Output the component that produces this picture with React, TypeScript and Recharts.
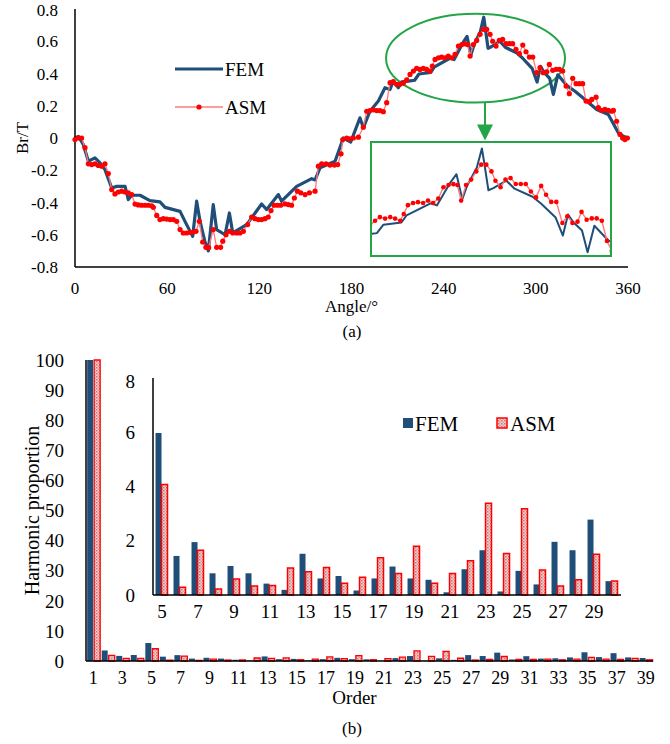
import React from "react";
import { LineChart, Line, BarChart, Bar, XAxis, YAxis, Legend, ReferenceArea } from "recharts";

const FONT = '"Liberation Serif", "Times New Roman", serif';
const FEM_BLUE = "#1F4E79";
const ASM_RED = "#FF0000";
const ASM_LINE = "#FF7A7A";
const GREEN = "#22A447";

// (a) air-gap flux density waveform, angle in degrees, Br in T
const femAngle = [0, 2.2, 5.4, 8.7, 13, 16.3, 19.5, 23.9, 27.1, 32.6, 34.7, 36.9, 42.3, 48.8, 55.3, 58.6, 68.4, 71.6, 76.6, 79.2, 81.4, 84.5, 86.8, 90, 92.2, 97.7, 100.5, 102.7, 111.8, 121.5, 124.8, 132.4, 134.5, 144.3, 154.1, 156.3, 159.5, 169.3, 174.7, 179.5, 185.5, 187.7, 192, 197.5, 201.8, 205, 207.2, 210.5, 212.7, 217, 221.1, 223.9, 231.6, 233.8, 244.3, 246.8, 252.5, 255.2, 257.7, 259.8, 263.9, 266.1, 267, 268.9, 271, 276.6, 280.1, 287.8, 291.3, 297.7, 300.8, 303, 305.4, 309, 311.4, 314.3, 320.2, 325.5, 332, 339.6, 347.2, 353.7, 357, 360];
const femBr = [0, 0.01, -0.04, -0.144, -0.123, -0.154, -0.196, -0.31, -0.3, -0.3, -0.382, -0.355, -0.355, -0.388, -0.396, -0.43, -0.455, -0.517, -0.61, -0.392, -0.517, -0.64, -0.7, -0.413, -0.568, -0.6, -0.465, -0.589, -0.537, -0.409, -0.444, -0.351, -0.392, -0.3, -0.252, -0.26, -0.185, -0.144, 0, -0.025, 0.125, 0.063, 0.166, 0.229, 0.312, 0.3, 0.353, 0.312, 0.349, 0.353, 0.358, 0.397, 0.407, 0.44, 0.496, 0.486, 0.59, 0.63, 0.515, 0.578, 0.66, 0.749, 0.689, 0.556, 0.566, 0.6, 0.563, 0.526, 0.496, 0.43, 0.347, 0.444, 0.407, 0.37, 0.27, 0.392, 0.325, 0.29, 0.239, 0.177, 0.146, 0.032, 0.011, 0];

const asmAngle = [0, 2.2, 4.3, 6.5, 8.7, 10.9, 13, 15.2, 17.4, 19.5, 21.7, 23.9, 26, 28.2, 30.4, 32.6, 34.7, 36.9, 39.1, 41.2, 43.4, 45.6, 47.7, 49.9, 51, 53.2, 55.3, 57.5, 59.7, 61.9, 64, 66.2, 68.4, 70.5, 72.7, 74.9, 77, 78.8, 80.9, 83.1, 85.2, 87, 90, 92.2, 94.8, 96.2, 98.3, 100.5, 102.7, 105.2, 107.4, 109.6, 112.4, 115, 117.2, 119.4, 121.5, 123.7, 125.8, 127.6, 129.6, 131.8, 133.9, 136.7, 138.9, 141, 142.8, 144.8, 147, 149.8, 152.6, 156.3, 158.4, 160.6, 163.4, 166, 168.9, 171, 173.2, 174.3, 176.9, 179, 181.2, 184.5, 187.7, 189.9, 192, 194.2, 196.4, 198.5, 200.7, 202.9, 205.1, 207.2, 209.4, 211.5, 213.7, 215.9, 218.1, 220.3, 222.4, 224.6, 226.8, 228.9, 231.1, 232.6, 234.4, 236.6, 238.7, 240.9, 243, 245.2, 247.4, 249.6, 251.8, 253.9, 255.6, 257.2, 259.3, 261.5, 263.7, 265.8, 268, 270.2, 271.9, 274.1, 276.2, 278.4, 280.6, 282.8, 284.9, 287.1, 289.3, 291.5, 293.6, 295.8, 298, 300.6, 302.7, 304.9, 307.1, 308.8, 311, 313.2, 315.3, 317.5, 319.7, 321.8, 324, 326.2, 328.4, 330.5, 332.7, 334.9, 336.4, 339.2, 340.7, 342.8, 345, 347.2, 349.4, 350.5, 352.6, 354.8, 356.5, 358, 359.6];
const asmBr = [-0.01, 0, 0, -0.06, -0.16, -0.165, -0.16, -0.17, -0.175, -0.16, -0.22, -0.32, -0.347, -0.335, -0.33, -0.335, -0.34, -0.351, -0.41, -0.415, -0.417, -0.417, -0.417, -0.42, -0.43, -0.48, -0.506, -0.5, -0.503, -0.506, -0.506, -0.517, -0.568, -0.589, -0.589, -0.585, -0.583, -0.579, -0.517, -0.645, -0.678, -0.68, -0.568, -0.678, -0.678, -0.64, -0.6, -0.579, -0.589, -0.589, -0.589, -0.579, -0.537, -0.49, -0.5, -0.506, -0.506, -0.5, -0.49, -0.45, -0.417, -0.417, -0.417, -0.409, -0.413, -0.417, -0.372, -0.33, -0.34, -0.351, -0.34, -0.33, -0.175, -0.16, -0.16, -0.168, -0.168, -0.165, -0.098, -0.01, 0, -0.005, 0, 0.005, 0.067, 0.166, 0.17, 0.175, 0.17, 0.17, 0.163, 0.219, 0.343, 0.349, 0.333, 0.333, 0.34, 0.36, 0.394, 0.415, 0.432, 0.425, 0.432, 0.425, 0.415, 0.446, 0.487, 0.497, 0.501, 0.497, 0.508, 0.497, 0.518, 0.57, 0.58, 0.584, 0.58, 0.508, 0.58, 0.605, 0.643, 0.674, 0.674, 0.643, 0.6, 0.57, 0.605, 0.612, 0.585, 0.585, 0.585, 0.55, 0.523, 0.576, 0.535, 0.502, 0.502, 0.405, 0.436, 0.405, 0.411, 0.456, 0.42, 0.426, 0.426, 0.415, 0.322, 0.275, 0.37, 0.337, 0.337, 0.337, 0.229, 0.225, 0.239, 0.253, 0.188, 0.171, 0.177, 0.171, 0.166, 0.171, 0.104, 0.022, 0, -0.01, 0];

const angleTicks = [0, 60, 120, 180, 240, 300, 360];
const brTicks = [-0.8, -0.6, -0.4, -0.2, 0, 0.2, 0.4, 0.6, 0.8];

// (b) harmonic spectrum, % of fundamental
const orders = [1, 2, 3, 4, 5, 6, 7, 8, 9, 10, 11, 12, 13, 14, 15, 16, 17, 18, 19, 20, 21, 22, 23, 24, 25, 26, 27, 28, 29, 30, 31, 32, 33, 34, 35, 36, 37, 38, 39];
const femHarm = [100, 3.5, 1.7, 2.0, 5.97, 1.44, 1.95, 0.8, 1.07, 0.8, 0.42, 0.19, 1.52, 0.61, 0.7, 0.17, 0.61, 1.05, 0.61, 0.56, 0.1, 0.95, 1.65, 0.13, 0.89, 0.39, 1.96, 1.65, 2.78, 0.51, 1.6, 0.8, 0.9, 1.2, 2.9, 1.3, 2.6, 1.2, 1.0];
const asmHarm = [100, 1.9, 0.9, 0.9, 4.07, 0.29, 1.65, 0.22, 0.59, 0.33, 0.35, 1.0, 0.86, 1.01, 0.43, 0.65, 1.37, 0.79, 1.8, 0.43, 0.79, 1.26, 3.38, 1.53, 3.18, 0.92, 0.33, 0.56, 1.5, 0.52, 0.5, 0.6, 0.4, 0.6, 1.2, 0.6, 0.5, 0.9, 0.4];
const percentTicks = [0, 10, 20, 30, 40, 50, 60, 70, 80, 90, 100];
const zoomTicks = [0, 2, 4, 6, 8];

const femData = femAngle.map((a, i) => ({ angle: a, br: femBr[i] }));
const asmData = asmAngle.map((a, i) => ({ angle: a, br: asmBr[i] }));
const harmData = orders.map((o, i) => ({ order: o, fem: femHarm[i], asm: asmHarm[i] }));
const zoomData = harmData.filter((d) => d.order >= 5 && d.order <= 30);

const frame = { stroke: "#000", strokeWidth: 1.5 };

function Pattern({ id }: { id: string }) {
  return (
    <defs>
      <pattern id={id} width="3" height="3" patternUnits="userSpaceOnUse">
        <rect width="3" height="3" fill="#f3d2d2" />
        <rect width="1.5" height="1.5" fill="#e46a6a" />
        <rect x="1.5" y="1.5" width="1.5" height="1.5" fill="#c8a6a6" />
      </pattern>
    </defs>
  );
}

// legends drawn as svg so the text uses the same serif face as the axes
function WaveLegend() {
  return (
    <svg width={110} height={62}>
      <line x1={0} y1={12} x2={48} y2={12} stroke={FEM_BLUE} strokeWidth={3} />
      <text x={50} y={18.5} fontFamily={FONT} fontSize={19} fill="#000">FEM</text>
      <line x1={0} y1={50} x2={48} y2={50} stroke={ASM_LINE} strokeWidth={1.3} />
      <circle cx={24} cy={50} r={2.6} fill={ASM_RED} />
      <text x={50} y={56.5} fontFamily={FONT} fontSize={19} fill="#000">ASM</text>
    </svg>
  );
}

function HarmLegend() {
  return (
    <svg width={170} height={24}>
      <rect x={1} y={7} width={10} height={10} fill={FEM_BLUE} />
      <text x={13} y={19.5} fontFamily={FONT} fontSize={21} fill="#000">FEM</text>
      <rect x={95} y={7} width={10} height={10} fill="url(#asmFillZoom)" stroke={ASM_RED} strokeWidth={1.5} />
      <text x={108} y={19.5} fontFamily={FONT} fontSize={21} fill="#000">ASM</text>
    </svg>
  );
}

// ellipse around the peak plus the arrow pointing to the zoom box
const ZoomMark = (props: any) => {
  const { x, y, width, height } = props;
  const ax = x + width * 0.553;
  const by = y + height;
  return (
    <g>
      <ellipse cx={x + width / 2} cy={y + height / 2} rx={width / 2} ry={height / 2} fill="none" stroke={GREEN} strokeWidth={2} />
      <line x1={ax} y1={by} x2={ax} y2={by + 24} stroke={GREEN} strokeWidth={2} />
      <polygon points={`${ax - 8},${by + 22} ${ax + 8},${by + 22} ${ax},${by + 38}`} fill={GREEN} />
    </g>
  );
};

const tickStyle = { fontFamily: FONT, fill: "#000" };

export default function App() {
  return (
    <div style={{ position: "absolute", left: 0, top: 0, width: 670, height: 744, background: "#fff", fontFamily: FONT }}>
      {/* (a) waveform */}
      <div style={{ position: "absolute", left: 0, top: 0 }}>
        <LineChart width={670} height={320} margin={{ top: 9, right: 42, bottom: 0, left: 0 }}>
          <XAxis
            type="number"
            dataKey="angle"
            domain={[0, 360]}
            ticks={angleTicks}
            tickLine={false}
            tickMargin={9}
            axisLine={frame}
            height={53}
            tick={{ ...tickStyle, fontSize: 17 }}
            label={{ value: "Angle/°", position: "insideBottom", offset: 8, style: { ...tickStyle, fontSize: 17 } }}
          />
          <XAxis xAxisId="top" orientation="top" type="number" domain={[0, 360]} tick={false} tickLine={false} axisLine={frame} height={0} />
          <YAxis
            type="number"
            domain={[-0.8, 0.8]}
            ticks={brTicks}
            tickLine={false}
            tickMargin={11}
            axisLine={frame}
            width={75}
            tick={{ ...tickStyle, fontSize: 17 }}
            label={{ value: "Br/T", angle: -90, position: "insideLeft", offset: 22, style: { ...tickStyle, fontSize: 17, textAnchor: "middle" } }}
          />
          <YAxis yAxisId="right" orientation="right" type="number" domain={[-0.8, 0.8]} tick={false} tickLine={false} axisLine={frame} width={0} />
          <ReferenceArea x1={202.5} x2={319} y1={0.22} y2={0.77} shape={ZoomMark} />
          <Line data={femData} dataKey="br" type="linear" stroke={FEM_BLUE} strokeWidth={3.2} strokeLinejoin="round" dot={false} isAnimationActive={false} />
          <Line
            data={asmData}
            dataKey="br"
            type="linear"
            stroke={ASM_LINE}
            strokeWidth={1.3}
            dot={{ r: 2.6, fill: ASM_RED, stroke: "none" }}
            isAnimationActive={false}
          />
          <Legend layout="vertical" align="center" verticalAlign="middle" content={<WaveLegend />} wrapperStyle={{ left: 175, top: 57, width: 110 }} />
        </LineChart>
      </div>
      {/* zoom box of the peak */}
      <div style={{ position: "absolute", left: 370, top: 141, width: 242, height: 116, border: `2px solid ${GREEN}`, boxSizing: "border-box", background: "#fff" }}>
        <LineChart width={238} height={112} margin={{ top: 0, right: 0, bottom: 0, left: 0 }}>
          <XAxis type="number" dataKey="angle" domain={[219, 321]} allowDataOverflow hide />
          <YAxis type="number" domain={[0.257, 0.774]} allowDataOverflow hide />
          <Line data={femData} dataKey="br" type="linear" stroke={FEM_BLUE} strokeWidth={2} strokeLinejoin="round" dot={false} isAnimationActive={false} />
          <Line data={asmData} dataKey="br" type="linear" stroke={ASM_LINE} strokeWidth={1.4} dot={{ r: 2.3, fill: ASM_RED, stroke: "none" }} isAnimationActive={false} />
        </LineChart>
      </div>
      <div style={{ position: "absolute", left: 0, width: 704, top: 322, textAlign: "center", fontSize: 17, lineHeight: "20px" }}>(a)</div>

      {/* (b) harmonic spectrum */}
      <div style={{ position: "absolute", left: 0, top: 340 }}>
        <BarChart width={670} height={380} data={harmData} margin={{ top: 20, right: 17, bottom: 0, left: 0 }} barCategoryGap="8%" barGap={1}>
          <Pattern id="asmFillMain" />
          <XAxis
            dataKey="order"
            interval={1}
            tickLine={false}
            tickMargin={4}
            axisLine={frame}
            height={59}
            tick={{ ...tickStyle, fontSize: 18 }}
            label={{ value: "Order", position: "insideBottom", offset: 16, dx: -15, style: { ...tickStyle, fontSize: 19 } }}
          />
          <XAxis xAxisId="top" orientation="top" dataKey="order" tick={false} tickLine={false} axisLine={frame} height={0} />
          <YAxis
            type="number"
            domain={[0, 100]}
            ticks={percentTicks}
            tickLine={false}
            tickMargin={16}
            axisLine={frame}
            width={86}
            tick={{ ...tickStyle, fontSize: 19 }}
            label={{ value: "Harmonic proportion", angle: -90, position: "insideLeft", offset: 32, style: { ...tickStyle, fontSize: 20, textAnchor: "middle" } }}
          />
          <YAxis yAxisId="right" orientation="right" type="number" domain={[0, 100]} tick={false} tickLine={false} axisLine={frame} width={0} />
          <Bar dataKey="fem" fill={FEM_BLUE} isAnimationActive={false} />
          <Bar dataKey="asm" fill="url(#asmFillMain)" stroke={ASM_RED} strokeWidth={1.3} isAnimationActive={false} />
        </BarChart>
      </div>
      {/* zoom of orders 5-30 */}
      <div style={{ position: "absolute", left: 100, top: 370 }}>
        <BarChart width={530} height={260} data={zoomData} margin={{ top: 8, right: 9, bottom: 0, left: 0 }} barCategoryGap="14%" barGap={0}>
          <Pattern id="asmFillZoom" />
          <XAxis dataKey="order" interval={1} tickLine={false} tickMargin={4} axisLine={frame} height={35} tick={{ ...tickStyle, fontSize: 19 }} />
          <XAxis xAxisId="top" orientation="top" dataKey="order" tick={false} tickLine={false} axisLine={frame} height={0} />
          <YAxis type="number" domain={[0, 8]} ticks={zoomTicks} tickLine={false} tickMargin={12} axisLine={frame} width={53} tick={{ ...tickStyle, fontSize: 19 }} />
          <YAxis yAxisId="right" orientation="right" type="number" domain={[0, 8]} tick={false} tickLine={false} axisLine={frame} width={0} />
          <Bar dataKey="fem" fill={FEM_BLUE} isAnimationActive={false} />
          <Bar dataKey="asm" fill="url(#asmFillZoom)" stroke={ASM_RED} strokeWidth={1.5} isAnimationActive={false} />
          <Legend layout="horizontal" align="center" verticalAlign="middle" content={<HarmLegend />} wrapperStyle={{ left: 302, top: 41, width: 170 }} />
        </BarChart>
      </div>
      <div style={{ position: "absolute", left: 0, width: 704, top: 719, textAlign: "center", fontSize: 17, lineHeight: "20px" }}>(b)</div>
    </div>
  );
}
